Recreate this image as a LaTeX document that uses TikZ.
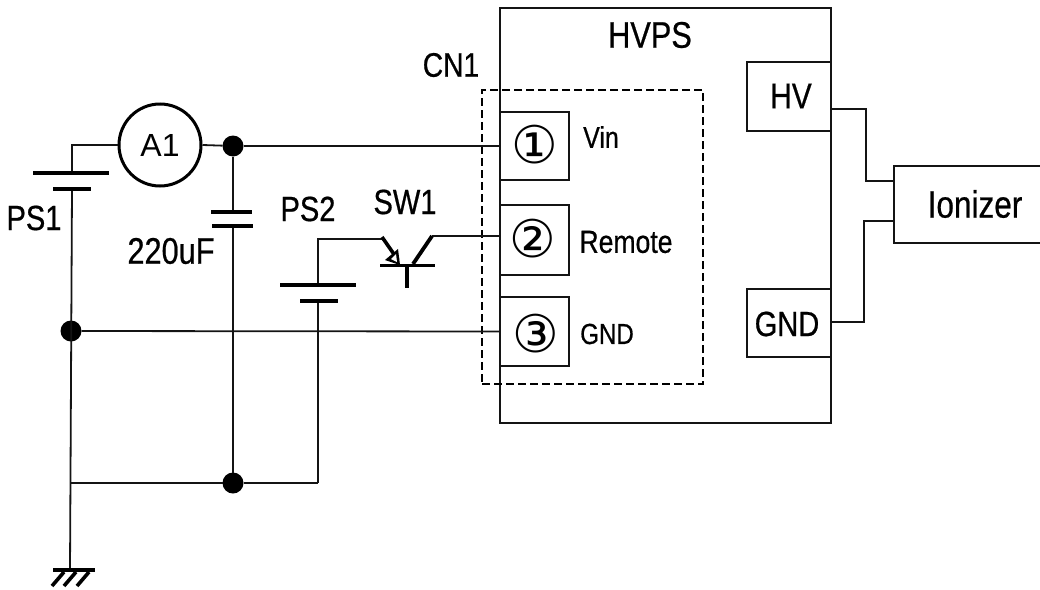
\documentclass[tikz,border=0pt]{standalone}
\usepackage{fontspec}
\setmainfont{Liberation Sans}
\newfontfamily\narrowfont[FakeStretch=0.83,FakeBold=0.6]{Liberation Sans}
\newfontfamily\symfont{DejaVu Sans}
\usetikzlibrary{calc,arrows.meta}
\newcommand{\fsz}[1]{\narrowfont\fontsize{#1}{#1}\selectfont}
\tikzset{
  x=1pt,y=-1pt,
  wire/.style={line width=1.8pt,black!92,line join=miter},
  plate/.style={line width=4.5pt},
  boxn/.style={draw,line width=1.9pt,black!92,inner sep=0pt,outer sep=0pt},
  lab/.style={inner sep=0pt,outer sep=0pt},
  circnum/.style={inner sep=0pt,outer sep=0pt,font=\symfont\fontsize{52}{52}\selectfont},
  dotn/.style={circle,fill=black,inner sep=0pt,outer sep=0pt,minimum size=21pt},
}
\begin{document}
\begin{tikzpicture}
\useasboundingbox (0,0) rectangle (1040,589);
\clip (0,0) rectangle (1040,589);
% boxes
\node[boxn,minimum width=331pt,minimum height=415pt] (hvps) at (665.5,215.5) {};
\node[boxn,minimum width=69pt,minimum height=68pt] (p1) at (534.5,146) {};
\node[boxn,minimum width=69pt,minimum height=70pt] (p2) at (534.5,240) {};
\node[boxn,minimum width=69pt,minimum height=69pt] (p3) at (534.5,331.5) {};
\node[boxn,minimum width=84pt,minimum height=69pt] (hv) at (789,96.5) {};
\node[boxn,minimum width=84pt,minimum height=68pt] (gndb) at (789,323) {};
\node[boxn,minimum width=160pt,minimum height=77pt] (ion) at (974,204.5) {};
\node[draw,line width=2.4pt,dash pattern=on 8pt off 4pt,minimum width=221pt,minimum height=294pt,inner sep=0pt] (cn) at (592.5,237) {};
% meter and junctions
\node[circle,draw,line width=3pt,minimum size=82pt,inner sep=0pt,font=\setmainfont{Liberation Sans}\fontsize{32}{32}\selectfont] (a1) at (160,145) {A1};
\node[dotn] (d1) at (233,146) {};
\node[dotn] (d2) at (71,331) {};
\node[dotn] (d3) at (233,483) {};
% coordinates
\coordinate (ps1a) at (72,173);
\coordinate (ps1b) at (72,189);
\coordinate (ps1l) at (33,173);
\coordinate (ps1r) at (109,173);
\coordinate (ps1bl) at (53,189);
\coordinate (ps1br) at (91,189);
\coordinate (gnd) at (70,571);
\coordinate (gndj) at (70,483);
\coordinate (c1) at (233,212);
\coordinate (c2) at (233,226);
\coordinate (ps2a) at (318,285);
\coordinate (ps2b) at (318,301);
\coordinate (ps2j) at (318,483);
\coordinate (em) at (382,239);
\coordinate (col) at (432,236);
\coordinate (p2in) at (p2.west |- col);
\coordinate (hvout) at (831,109);
\coordinate (gout) at (831,322);
\coordinate (ioa) at (894,181);
\coordinate (iob) at (894,221);
% wires
\draw[wire] (ps1a) |- (a1.west);
\draw[wire] (a1.east) -- (d1);
\draw[wire] (d1) -- (p1.west);
\draw[wire] (ps1b) -- (gnd);
\draw[wire] (d2) -- (p3.west);
\draw[wire] (d1) -- (c1);
\draw[wire] (c2) -- (d3);
\draw[wire] (gndj) -- (d3);
\draw[wire] (d3) -- (ps2j);
\draw[wire] (ps2j) -- (ps2b);
\draw[wire] (ps2a) -- (318,239) -- (em);
\draw[wire] (col) -- (p2in);
\draw[wire] (hvout) -- (866,109) -- (866,181) -- (ioa);
\draw[wire] (gout) -- (864,322) -- (864,221) -- (iob);
% plates
\draw[plate] (ps1l) -- (ps1r);
\draw[plate] (ps1bl) -- (ps1br);
\draw[plate] (211,212) -- (252,212);
\draw[plate] (212,226) -- (253,226);
\draw[plate] (280,285) -- (356,285);
\draw[plate] (300,301) -- (338,301);
% transistor
\draw[line width=3.8pt] (380,265.5) -- (435,265.5);
\draw[line width=3.8pt] (407,265.5) -- (407,288);
\draw[line width=3.8pt] (432,236) -- (413,264);
\draw[line width=3.6pt] (382,237) -- (398,260);
\fill[black] (400,265) -- (385,260) -- (398,249) -- cycle;
\fill[white] (397,262) -- (391,259) -- (396,254) -- cycle;
% ground
\draw[line width=4.2pt] (53,570) -- (95,570);
\draw[line width=3.6pt] (64,572) -- (52,586);
\draw[line width=3.6pt] (76,572) -- (64,586);
\draw[line width=3.6pt] (89,572) -- (77,586);
% labels
\node[lab,font=\fsz{35}] (tps1) at (34,218) {PS1};
\node[lab,font=\fsz{37}] (tcap) at (171,251) {220uF};
\node[lab,font=\fsz{35}] (tps2) at (308,209) {PS2};
\node[lab,font=\fsz{35}] (tsw) at (405,202) {SW1};
\node[lab,font=\fsz{34}] (tcn) at (451,65) {CN1};
\node[lab,font=\fsz{37}] (thvps) at (650,35) {HVPS};
\node[lab,font=\fsz{36}] (thv) at (791,96) {HV};
\node[lab,font=\fsz{35}] (tg2) at (787,324) {GND};
\node[lab,font=\fsz{38}] (tion) at (975,204) {Ionizer};
\node[lab,font=\fsz{30}] (tvin) at (601,137) {Vin};
\node[lab,font=\fsz{32}] (trem) at (626,242) {Remote};
\node[lab,font=\fsz{29}] (tgnd) at (607,334) {GND};
\node[circnum] (n1) at (535,145) {①};
\node[circnum] (n2) at (533,239) {②};
\node[circnum] (n3) at (536,334) {③};
\end{tikzpicture}
\end{document}
